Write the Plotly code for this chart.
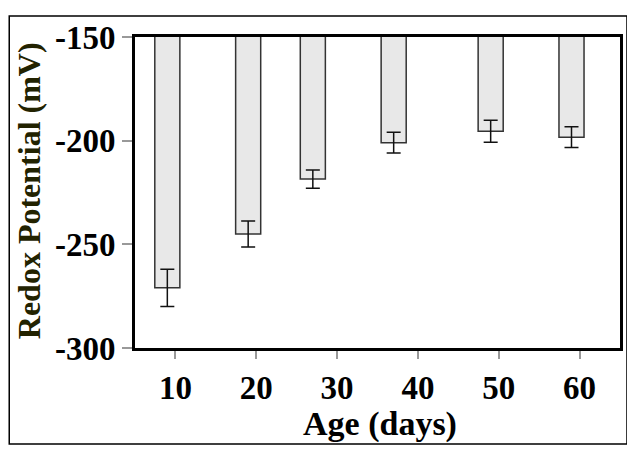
import plotly.graph_objects as go

# ages (days) at which the samples were taken
ages = [9, 19, 27, 37, 49, 59]
redox_mv = [-271, -245, -218.5, -201, -195.5, -198.3]
redox_err = [9, 6.3, 4.4, 5, 5.3, 5]

x_ticks = [10, 20, 30, 40, 50, 60]
y_ticks = [-300, -250, -200, -150]
y_labels = ["-300", "-250", "-200", "-150"]

SERIF = "Liberation Serif, Times New Roman, serif"

fig = go.Figure()
fig.add_trace(go.Bar(
    x=ages, y=redox_mv, width=3.1,
    marker=dict(color="#e8e8e8", line=dict(color="#333333", width=1.5)),
    error_y=dict(type="data", array=redox_err, color="#111111", thickness=1.5, width=7),
    showlegend=False,
))

fig.update_xaxes(
    range=[5, 65], tickvals=x_ticks,
    showline=True, linecolor="black", linewidth=3, mirror=True,
    ticks="outside", ticklen=8, tickcolor="#999999", tickwidth=1.5,
    showgrid=False, zeroline=False,
    tickfont=dict(family=SERIF, size=33, color="black", weight="bold"),
)
fig.update_yaxes(
    range=[-300, -150], tickvals=y_ticks, ticktext=y_labels,
    showline=True, linecolor="black", linewidth=3, mirror=True,
    ticks="outside", ticklen=10, tickcolor="#999999", tickwidth=1.5,
    showgrid=False, zeroline=False,
    tickfont=dict(family=SERIF, size=33, color="black", weight="bold"),
)

fig.add_annotation(
    text="Age (days)", xref="paper", yref="paper", x=0.506, y=-0.245,
    xanchor="center", yanchor="middle", showarrow=False,
    font=dict(family=SERIF, size=34, color="black", weight="bold"),
)
fig.add_annotation(
    text="Redox Potential (mV)", xref="paper", yref="paper", x=-0.218, y=0.505,
    xanchor="center", yanchor="middle", showarrow=False, textangle=-90,
    font=dict(family=SERIF, size=32, color="#222200", weight="bold"),
)

# thin frame round the whole picture (page has an 8px body margin)
fig.add_shape(type="rect", xref="paper", yref="paper",
              x0=-0.2593, x1=1.0144, y0=-0.3087, y1=1.0676,
              line=dict(color="black", width=1.5))

fig.update_layout(
    width=627, height=448,
    margin=dict(l=127, r=14, t=22, b=108),
    plot_bgcolor="white", paper_bgcolor="white",
)

fig.write_html("out.html")
